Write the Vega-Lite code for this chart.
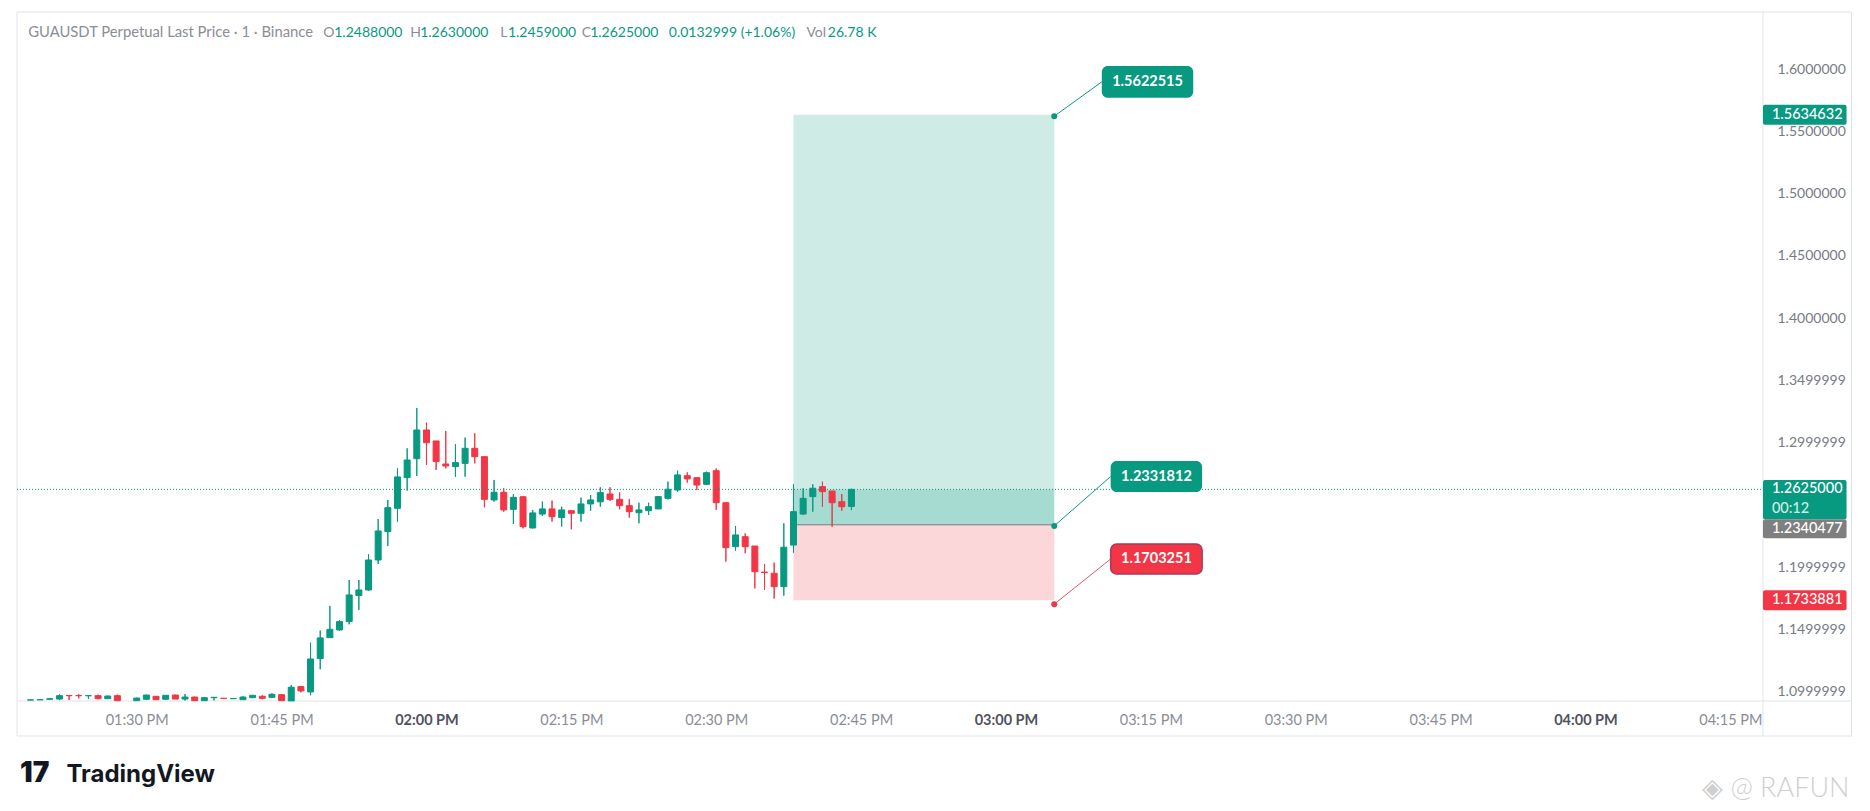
{
  "$schema": "https://vega.github.io/schema/vega-lite/v6.json",
  "width": 1756,
  "height": 689,
  "autosize": {"type": "none"},
  "padding": {"left": 12, "top": 12, "right": 102, "bottom": 110},
  "background": "#ffffff",
  "config": {"view": {"stroke": null}},
  "datasets": {
    "candles": [
      {"m":79,"o":1.0933,"h":1.0935,"l":1.0932,"c":1.0934},
      {"m":80,"o":1.0935,"h":1.0941,"l":1.0934,"c":1.0936},
      {"m":81,"o":1.0939,"h":1.0944,"l":1.0939,"c":1.0944},
      {"m":82,"o":1.0941,"h":1.0979,"l":1.0933,"c":1.0968},
      {"m":83,"o":1.0969,"h":1.0970,"l":1.0933,"c":1.0968},
      {"m":84,"o":1.0969,"h":1.0979,"l":1.0947,"c":1.0968},
      {"m":85,"o":1.0968,"h":1.0969,"l":1.0941,"c":1.0968},
      {"m":86,"o":1.0968,"h":1.0976,"l":1.0939,"c":1.0944},
      {"m":87,"o":1.0944,"h":1.0968,"l":1.0941,"c":1.0965},
      {"m":88,"o":1.0968,"h":1.0976,"l":1.0928,"c":1.0928},
      {"m":90,"o":1.0928,"h":1.0952,"l":1.0928,"c":1.0949},
      {"m":91,"o":1.0939,"h":1.0976,"l":1.0936,"c":1.0973},
      {"m":92,"o":1.0963,"h":1.0965,"l":1.0936,"c":1.0936},
      {"m":93,"o":1.0939,"h":1.0973,"l":1.0939,"c":1.0971},
      {"m":94,"o":1.0973,"h":1.0976,"l":1.0941,"c":1.0941},
      {"m":95,"o":1.0941,"h":1.0981,"l":1.0928,"c":1.0957},
      {"m":96,"o":1.0957,"h":1.0960,"l":1.0928,"c":1.0928},
      {"m":97,"o":1.0928,"h":1.0957,"l":1.0928,"c":1.0952},
      {"m":98,"o":1.0952,"h":1.0955,"l":1.0928,"c":1.0955},
      {"m":99,"o":1.0947,"h":1.0949,"l":1.0944,"c":1.0946},
      {"m":100,"o":1.0944,"h":1.0949,"l":1.0941,"c":1.0945},
      {"m":101,"o":1.0936,"h":1.0963,"l":1.0936,"c":1.0957},
      {"m":102,"o":1.0952,"h":1.0973,"l":1.0949,"c":1.0971},
      {"m":103,"o":1.0963,"h":1.0971,"l":1.0939,"c":1.0947},
      {"m":104,"o":1.0955,"h":1.0987,"l":1.0949,"c":1.0979},
      {"m":105,"o":1.0976,"h":1.0979,"l":1.0928,"c":1.0928},
      {"m":106,"o":1.0926,"h":1.1054,"l":1.0926,"c":1.1036},
      {"m":107,"o":1.1041,"h":1.1046,"l":1.0995,"c":1.1006},
      {"m":108,"o":1.0998,"h":1.1394,"l":1.0971,"c":1.1263},
      {"m":109,"o":1.1266,"h":1.1491,"l":1.1180,"c":1.1432},
      {"m":110,"o":1.1434,"h":1.1689,"l":1.1434,"c":1.1501},
      {"m":111,"o":1.1496,"h":1.1576,"l":1.1488,"c":1.1563},
      {"m":112,"o":1.1563,"h":1.1897,"l":1.1541,"c":1.1777},
      {"m":113,"o":1.1772,"h":1.1897,"l":1.1657,"c":1.1817},
      {"m":114,"o":1.1817,"h":1.2104,"l":1.1809,"c":1.2058},
      {"m":115,"o":1.2058,"h":1.2387,"l":1.2026,"c":1.2291},
      {"m":116,"o":1.2286,"h":1.2540,"l":1.2171,"c":1.2478},
      {"m":117,"o":1.2473,"h":1.2794,"l":1.2366,"c":1.2725},
      {"m":118,"o":1.2719,"h":1.2955,"l":1.2615,"c":1.2861},
      {"m":119,"o":1.2872,"h":1.3279,"l":1.2733,"c":1.3102},
      {"m":120,"o":1.3102,"h":1.3161,"l":1.2821,"c":1.3000},
      {"m":121,"o":1.3014,"h":1.3014,"l":1.2781,"c":1.2848},
      {"m":122,"o":1.2829,"h":1.3094,"l":1.2794,"c":1.2813},
      {"m":123,"o":1.2808,"h":1.2987,"l":1.2727,"c":1.2840},
      {"m":124,"o":1.2834,"h":1.3041,"l":1.2727,"c":1.2955},
      {"m":125,"o":1.2955,"h":1.3075,"l":1.2834,"c":1.2888},
      {"m":126,"o":1.2888,"h":1.2888,"l":1.2481,"c":1.2545},
      {"m":127,"o":1.2540,"h":1.2701,"l":1.2527,"c":1.2602},
      {"m":128,"o":1.2602,"h":1.2634,"l":1.2446,"c":1.2460},
      {"m":129,"o":1.2465,"h":1.2588,"l":1.2347,"c":1.2561},
      {"m":130,"o":1.2566,"h":1.2567,"l":1.2312,"c":1.2326},
      {"m":131,"o":1.2315,"h":1.2460,"l":1.2312,"c":1.2436},
      {"m":132,"o":1.2427,"h":1.2527,"l":1.2411,"c":1.2468},
      {"m":133,"o":1.2468,"h":1.2535,"l":1.2366,"c":1.2406},
      {"m":134,"o":1.2398,"h":1.2486,"l":1.2326,"c":1.2460},
      {"m":135,"o":1.2454,"h":1.2454,"l":1.2304,"c":1.2433},
      {"m":136,"o":1.2433,"h":1.2559,"l":1.2366,"c":1.2508},
      {"m":137,"o":1.2508,"h":1.2580,"l":1.2454,"c":1.2540},
      {"m":138,"o":1.2525,"h":1.2642,"l":1.2486,"c":1.2599},
      {"m":139,"o":1.2588,"h":1.2642,"l":1.2532,"c":1.2545},
      {"m":140,"o":1.2545,"h":1.2601,"l":1.2465,"c":1.2494},
      {"m":141,"o":1.2494,"h":1.2548,"l":1.2398,"c":1.2446},
      {"m":142,"o":1.2438,"h":1.2518,"l":1.2353,"c":1.2460},
      {"m":143,"o":1.2454,"h":1.2518,"l":1.2419,"c":1.2486},
      {"m":144,"o":1.2468,"h":1.2567,"l":1.2468,"c":1.2567},
      {"m":145,"o":1.2553,"h":1.2687,"l":1.2545,"c":1.2626},
      {"m":146,"o":1.2620,"h":1.2775,"l":1.2607,"c":1.2741},
      {"m":147,"o":1.2735,"h":1.2762,"l":1.2679,"c":1.2709},
      {"m":148,"o":1.2719,"h":1.2719,"l":1.2620,"c":1.2660},
      {"m":149,"o":1.2666,"h":1.2767,"l":1.2660,"c":1.2759},
      {"m":150,"o":1.2775,"h":1.2794,"l":1.2460,"c":1.2518},
      {"m":151,"o":1.2518,"h":1.2518,"l":1.2045,"c":1.2157},
      {"m":152,"o":1.2165,"h":1.2331,"l":1.2133,"c":1.2259},
      {"m":153,"o":1.2245,"h":1.2272,"l":1.2112,"c":1.2165},
      {"m":154,"o":1.2170,"h":1.2170,"l":1.1830,"c":1.1964},
      {"m":155,"o":1.1961,"h":1.2026,"l":1.1817,"c":1.1957},
      {"m":156,"o":1.1951,"h":1.2037,"l":1.1748,"c":1.1844},
      {"m":157,"o":1.1844,"h":1.2353,"l":1.1772,"c":1.2160},
      {"m":158,"o":1.2178,"h":1.2666,"l":1.2117,"c":1.2446},
      {"m":159,"o":1.2427,"h":1.2634,"l":1.2420,"c":1.2553},
      {"m":160,"o":1.2567,"h":1.2666,"l":1.2446,"c":1.2634},
      {"m":161,"o":1.2647,"h":1.2687,"l":1.2486,"c":1.2607},
      {"m":162,"o":1.2612,"h":1.2612,"l":1.2326,"c":1.2518},
      {"m":163,"o":1.2526,"h":1.2588,"l":1.2454,"c":1.2486},
      {"m":164,"o":1.2488,"h":1.2630,"l":1.2459,"c":1.2625}
    ],
    "position": [
      {"start":158,"end":185,"target":1.5634632,"entry":1.2340477,"stop":1.1733881,"last":1.2625}
    ],
    "levels": [
      {"kind":"target","v":1.5622515},
      {"kind":"entry","v":1.2331812},
      {"kind":"stop","v":1.1703251}
    ]
  },
  "layer": [
    {
      "data": {"name": "candles"},
      "mark": {"type": "rule", "strokeWidth": 1},
      "encoding": {
        "x": {
          "field": "m", "type": "quantitative",
          "scale": {"domain": [77.606, 258.38], "nice": false, "zero": false},
          "axis": {
            "title": null,
            "values": [90, 105, 120, 135, 150, 165, 180, 195, 210, 225, 240, 255],
            "labelExpr": "(floor(datum.value/60) < 10 ? '0' : '') + floor(datum.value/60) + ':' + (datum.value % 60 < 10 ? '0' : '') + (datum.value % 60) + ' PM'",
            "domain": false, "ticks": false, "tickSize": 0, "grid": false,
            "labelFont": "Lato", "labelFontSize": 14.5, "labelPadding": 23, "labelBaseline": "alphabetic",
            "labelColor": {"condition": {"test": "datum.value % 60 == 0", "value": "#50535e"}, "value": "#8a8d96"},
            "labelFontWeight": {"condition": {"test": "datum.value % 60 == 0", "value": "bold"}, "value": "normal"},
            "labelFlush": false, "labelOverlap": false
          }
        },
        "y": {
          "field": "l", "type": "quantitative",
          "scale": {"domain": [1.09253, 1.64594], "nice": false, "zero": false},
          "axis": {
            "title": null, "orient": "right",
            "values": [1.1, 1.15, 1.2, 1.3, 1.35, 1.4, 1.45, 1.5, 1.55, 1.6],
            "labelExpr": "datum.value > 1.39 ? format(datum.value, '.7f') : format(datum.value - 0.0000001, '.7f')",
            "domain": false, "ticks": false, "tickSize": 0, "grid": false,
            "labelFont": "Lato", "labelFontSize": 14, "labelPadding": 9, "labelAlign": "left", "labelBaseline": "middle",
            "labelColor": "#787b86", "labelFlush": false, "labelOverlap": false
          }
        },
        "y2": {"field": "h"},
        "color": {"condition": {"test": "datum.c >= datum.o", "value": "#089981"}, "value": "#F23645"}
      }
    },
    {
      "data": {"values": [{}]},
      "mark": {"type": "rect", "fill": "#ffffff", "fillOpacity": 0, "stroke": "#e0e3eb", "strokeWidth": 1},
      "encoding": {
        "x": {"datum": 77.606, "type": "quantitative"},
        "x2": {"datum": 267.54},
        "y": {"datum": 1.64594, "type": "quantitative"},
        "y2": {"datum": 1.06442}
      }
    },
    {
      "data": {"values": [{}]},
      "mark": {"type": "rule", "color": "#e0e3eb", "strokeWidth": 1},
      "encoding": {
        "x": {"datum": 258.38, "type": "quantitative"},
        "y": {"datum": 1.64594, "type": "quantitative"},
        "y2": {"datum": 1.06442}
      }
    },
    {
      "data": {"values": [{}]},
      "mark": {"type": "rule", "color": "#e0e3eb", "strokeWidth": 1},
      "encoding": {
        "x": {"datum": 77.606, "type": "quantitative"},
        "x2": {"datum": 267.54},
        "y": {"datum": 1.09253, "type": "quantitative"}
      }
    },
    {
      "data": {"name": "position"},
      "mark": {"type": "rect", "color": "#089981", "opacity": 0.2},
      "encoding": {
        "x": {"field": "start", "type": "quantitative"},
        "x2": {"field": "end"},
        "y": {"field": "entry", "type": "quantitative"},
        "y2": {"field": "target"}
      }
    },
    {
      "data": {"name": "position"},
      "mark": {"type": "rect", "color": "#089981", "opacity": 0.2},
      "encoding": {
        "x": {"field": "start", "type": "quantitative"},
        "x2": {"field": "end"},
        "y": {"field": "entry", "type": "quantitative"},
        "y2": {"field": "last"}
      }
    },
    {
      "data": {"name": "position"},
      "mark": {"type": "rect", "color": "#F23645", "opacity": 0.2},
      "encoding": {
        "x": {"field": "start", "type": "quantitative"},
        "x2": {"field": "end"},
        "y": {"field": "stop", "type": "quantitative"},
        "y2": {"field": "entry"}
      }
    },
    {
      "data": {"name": "position"},
      "mark": {"type": "rule", "color": "#787b86", "strokeWidth": 1},
      "encoding": {
        "x": {"field": "start", "type": "quantitative"},
        "x2": {"field": "end"},
        "y": {"field": "entry", "type": "quantitative"}
      }
    },
    {
      "data": {"name": "candles"},
      "mark": {"type": "rule", "strokeWidth": 1},
      "encoding": {
        "x": {"field": "m", "type": "quantitative"},
        "y": {"field": "l", "type": "quantitative"},
        "y2": {"field": "h"},
        "color": {"condition": {"test": "datum.c >= datum.o", "value": "#089981"}, "value": "#F23645"}
      }
    },
    {
      "data": {"name": "candles"},
      "mark": {"type": "bar", "size": 6, "strokeWidth": 1},
      "encoding": {
        "x": {"field": "m", "type": "quantitative"},
        "y": {"field": "o", "type": "quantitative"},
        "y2": {"field": "c"},
        "fill": {"condition": {"test": "datum.c >= datum.o", "value": "#089981"}, "value": "#F23645"},
        "stroke": {"condition": {"test": "datum.c >= datum.o", "value": "#089981"}, "value": "#F23645"}
      }
    },
    {
      "data": {"name": "position"},
      "mark": {"type": "rule", "color": "#089981", "strokeWidth": 1, "strokeDash": [1, 2]},
      "encoding": {
        "x": {"datum": 77.606, "type": "quantitative"},
        "x2": {"datum": 258.38},
        "y": {"field": "last", "type": "quantitative"}
      }
    },
    {
      "data": {"values": [{}]},
      "mark": {"type": "rule", "color": "#089981", "strokeWidth": 1},
      "encoding": {
        "x": {"datum": 185, "type": "quantitative"},
        "x2": {"datum": 189.92},
        "y": {"datum": 1.5622515, "type": "quantitative"},
        "y2": {"datum": 1.58984}
      }
    },
    {
      "data": {"values": [{}]},
      "mark": {"type": "rule", "color": "#089981", "strokeWidth": 1},
      "encoding": {
        "x": {"datum": 185, "type": "quantitative"},
        "x2": {"datum": 190.84},
        "y": {"datum": 1.2331812, "type": "quantitative"},
        "y2": {"datum": 1.27285}
      }
    },
    {
      "data": {"values": [{}]},
      "mark": {"type": "rule", "color": "#d0606c", "strokeWidth": 1},
      "encoding": {
        "x": {"datum": 185, "type": "quantitative"},
        "x2": {"datum": 190.84},
        "y": {"datum": 1.1703251, "type": "quantitative"},
        "y2": {"datum": 1.20659}
      }
    },
    {
      "data": {"name": "levels"},
      "mark": {"type": "point", "shape": "circle", "filled": true, "size": 36, "opacity": 1},
      "encoding": {
        "x": {"datum": 185, "type": "quantitative"},
        "y": {"field": "v", "type": "quantitative"},
        "color": {"condition": {"test": "datum.kind == 'stop'", "value": "#F23645"}, "value": "#089981"}
      }
    },
    {
      "data": {"values": [{}]},
      "mark": {"type": "rect", "color": "#089981", "cornerRadius": 6},
      "encoding": {
        "x": {"datum": 189.92, "type": "quantitative"},
        "x2": {"datum": 199.39},
        "y": {"datum": 1.60257, "type": "quantitative"},
        "y2": {"datum": 1.57711}
      }
    },
    {
      "data": {"values": [{}]},
      "mark": {"type": "rect", "color": "#089981", "cornerRadius": 6},
      "encoding": {
        "x": {"datum": 190.84, "type": "quantitative"},
        "x2": {"datum": 200.31},
        "y": {"datum": 1.2853, "type": "quantitative"},
        "y2": {"datum": 1.2604}
      }
    },
    {
      "data": {"values": [{}]},
      "mark": {"type": "rect", "fill": "#F23645", "stroke": "#a8395f", "strokeWidth": 1.5, "cornerRadius": 6},
      "encoding": {
        "x": {"datum": 190.84, "type": "quantitative"},
        "x2": {"datum": 200.31},
        "y": {"datum": 1.21863, "type": "quantitative"},
        "y2": {"datum": 1.19454}
      }
    },
    {
      "data": {"values": [{"t": "1.5622515"}]},
      "mark": {"type": "text", "align": "center", "baseline": "middle", "font": "Lato", "fontSize": 14.5, "fontWeight": "bold", "color": "#ffffff"},
      "encoding": {
        "x": {"datum": 194.66, "type": "quantitative"},
        "y": {"datum": 1.58984, "type": "quantitative"},
        "text": {"field": "t"}
      }
    },
    {
      "data": {"values": [{"t": "1.2331812"}]},
      "mark": {"type": "text", "align": "center", "baseline": "middle", "font": "Lato", "fontSize": 14.5, "fontWeight": "bold", "color": "#ffffff"},
      "encoding": {
        "x": {"datum": 195.58, "type": "quantitative"},
        "y": {"datum": 1.27285, "type": "quantitative"},
        "text": {"field": "t"}
      }
    },
    {
      "data": {"values": [{"t": "1.1703251"}]},
      "mark": {"type": "text", "align": "center", "baseline": "middle", "font": "Lato", "fontSize": 14.5, "fontWeight": "bold", "color": "#ffffff"},
      "encoding": {
        "x": {"datum": 195.58, "type": "quantitative"},
        "y": {"datum": 1.20659, "type": "quantitative"},
        "text": {"field": "t"}
      }
    },
    {
      "data": {"values": [{}]},
      "mark": {"type": "rect", "color": "#089981", "cornerRadius": 2},
      "encoding": {
        "x": {"datum": 258.38, "type": "quantitative"},
        "x2": {"datum": 267.03},
        "y": {"datum": 1.5715, "type": "quantitative"},
        "y2": {"datum": 1.55543}
      }
    },
    {
      "data": {"values": [{}]},
      "mark": {"type": "rect", "color": "#089981", "cornerRadius": 2},
      "encoding": {
        "x": {"datum": 258.38, "type": "quantitative"},
        "x2": {"datum": 267.03},
        "y": {"datum": 1.27004, "type": "quantitative"},
        "y2": {"datum": 1.23847}
      }
    },
    {
      "data": {"values": [{}]},
      "mark": {"type": "rect", "color": "#7f7f7f", "cornerRadius": 2},
      "encoding": {
        "x": {"datum": 258.38, "type": "quantitative"},
        "x2": {"datum": 267.03},
        "y": {"datum": 1.23847, "type": "quantitative"},
        "y2": {"datum": 1.22321}
      }
    },
    {
      "data": {"values": [{}]},
      "mark": {"type": "rect", "color": "#F23645", "cornerRadius": 2},
      "encoding": {
        "x": {"datum": 258.38, "type": "quantitative"},
        "x2": {"datum": 267.03},
        "y": {"datum": 1.18142, "type": "quantitative"},
        "y2": {"datum": 1.16536}
      }
    },
    {
      "data": {"values": [{"t": "1.5634632"}]},
      "mark": {"type": "text", "align": "left", "baseline": "middle", "font": "Lato", "fontSize": 14.5, "fontWeight": 500, "color": "#ffffff"},
      "encoding": {
        "x": {"datum": 259.3, "type": "quantitative"},
        "y": {"datum": 1.5634632, "type": "quantitative"},
        "text": {"field": "t"}
      }
    },
    {
      "data": {"values": [{"t": "1.2625000"}]},
      "mark": {"type": "text", "align": "left", "baseline": "middle", "font": "Lato", "fontSize": 14.5, "fontWeight": 500, "color": "#ffffff"},
      "encoding": {
        "x": {"datum": 259.3, "type": "quantitative"},
        "y": {"datum": 1.2625, "type": "quantitative"},
        "text": {"field": "t"}
      }
    },
    {
      "data": {"values": [{"t": "00:12"}]},
      "mark": {"type": "text", "align": "left", "baseline": "middle", "font": "Lato", "fontSize": 14.5, "fontWeight": 500, "color": "#cdeee6"},
      "encoding": {
        "x": {"datum": 259.3, "type": "quantitative"},
        "y": {"datum": 1.24675, "type": "quantitative"},
        "text": {"field": "t"}
      }
    },
    {
      "data": {"values": [{"t": "1.2340477"}]},
      "mark": {"type": "text", "align": "left", "baseline": "middle", "font": "Lato", "fontSize": 14.5, "fontWeight": 500, "color": "#ffffff"},
      "encoding": {
        "x": {"datum": 259.3, "type": "quantitative"},
        "y": {"datum": 1.23084, "type": "quantitative"},
        "text": {"field": "t"}
      }
    },
    {
      "data": {"values": [{"t": "1.1733881"}]},
      "mark": {"type": "text", "align": "left", "baseline": "middle", "font": "Lato", "fontSize": 14.5, "fontWeight": 500, "color": "#ffffff"},
      "encoding": {
        "x": {"datum": 259.3, "type": "quantitative"},
        "y": {"datum": 1.1733881, "type": "quantitative"},
        "text": {"field": "t"}
      }
    },
    {
      "data": {"values": [{"t": "GUAUSDT Perpetual Last Price · 1 · Binance"}]},
      "mark": {"type": "text", "align": "left", "baseline": "alphabetic", "font": "Lato", "fontSize": 14.8, "color": "#8a8d96"},
      "encoding": {"x": {"datum": 78.769, "type": "quantitative"}, "y": {"datum": 1.62562, "type": "quantitative"}, "text": {"field": "t"}}
    },
    {
      "data": {"values": [{"t": "O"}]},
      "mark": {"type": "text", "align": "left", "baseline": "alphabetic", "font": "Lato", "fontSize": 14, "color": "#8a8d96"},
      "encoding": {"x": {"datum": 109.31, "type": "quantitative"}, "y": {"datum": 1.62562, "type": "quantitative"}, "text": {"field": "t"}}
    },
    {
      "data": {"values": [{"t": "1.2488000"}]},
      "mark": {"type": "text", "align": "left", "baseline": "alphabetic", "font": "Lato", "fontSize": 14, "color": "#089981"},
      "encoding": {"x": {"datum": 110.45, "type": "quantitative"}, "y": {"datum": 1.62562, "type": "quantitative"}, "text": {"field": "t"}}
    },
    {
      "data": {"values": [{"t": "H"}]},
      "mark": {"type": "text", "align": "left", "baseline": "alphabetic", "font": "Lato", "fontSize": 14, "color": "#8a8d96"},
      "encoding": {"x": {"datum": 118.32, "type": "quantitative"}, "y": {"datum": 1.62562, "type": "quantitative"}, "text": {"field": "t"}}
    },
    {
      "data": {"values": [{"t": "1.2630000"}]},
      "mark": {"type": "text", "align": "left", "baseline": "alphabetic", "font": "Lato", "fontSize": 14, "color": "#089981"},
      "encoding": {"x": {"datum": 119.35, "type": "quantitative"}, "y": {"datum": 1.62562, "type": "quantitative"}, "text": {"field": "t"}}
    },
    {
      "data": {"values": [{"t": "L"}]},
      "mark": {"type": "text", "align": "left", "baseline": "alphabetic", "font": "Lato", "fontSize": 14, "color": "#8a8d96"},
      "encoding": {"x": {"datum": 127.64, "type": "quantitative"}, "y": {"datum": 1.62562, "type": "quantitative"}, "text": {"field": "t"}}
    },
    {
      "data": {"values": [{"t": "1.2459000"}]},
      "mark": {"type": "text", "align": "left", "baseline": "alphabetic", "font": "Lato", "fontSize": 14, "color": "#089981"},
      "encoding": {"x": {"datum": 128.43, "type": "quantitative"}, "y": {"datum": 1.62562, "type": "quantitative"}, "text": {"field": "t"}}
    },
    {
      "data": {"values": [{"t": "C"}]},
      "mark": {"type": "text", "align": "left", "baseline": "alphabetic", "font": "Lato", "fontSize": 14, "color": "#8a8d96"},
      "encoding": {"x": {"datum": 136.08, "type": "quantitative"}, "y": {"datum": 1.62562, "type": "quantitative"}, "text": {"field": "t"}}
    },
    {
      "data": {"values": [{"t": "1.2625000"}]},
      "mark": {"type": "text", "align": "left", "baseline": "alphabetic", "font": "Lato", "fontSize": 14, "color": "#089981"},
      "encoding": {"x": {"datum": 136.95, "type": "quantitative"}, "y": {"datum": 1.62562, "type": "quantitative"}, "text": {"field": "t"}}
    },
    {
      "data": {"values": [{"t": "0.0132999 (+1.06%)"}]},
      "mark": {"type": "text", "align": "left", "baseline": "alphabetic", "font": "Lato", "fontSize": 14, "color": "#089981"},
      "encoding": {"x": {"datum": 145.09, "type": "quantitative"}, "y": {"datum": 1.62562, "type": "quantitative"}, "text": {"field": "t"}}
    },
    {
      "data": {"values": [{"t": "Vol"}]},
      "mark": {"type": "text", "align": "left", "baseline": "alphabetic", "font": "Lato", "fontSize": 14, "color": "#8a8d96"},
      "encoding": {"x": {"datum": 159.34, "type": "quantitative"}, "y": {"datum": 1.62562, "type": "quantitative"}, "text": {"field": "t"}}
    },
    {
      "data": {"values": [{"t": "26.78 K"}]},
      "mark": {"type": "text", "align": "left", "baseline": "alphabetic", "font": "Lato", "fontSize": 14, "color": "#089981"},
      "encoding": {"x": {"datum": 161.55, "type": "quantitative"}, "y": {"datum": 1.62562, "type": "quantitative"}, "text": {"field": "t"}}
    },
    {
      "data": {"values": [{"t": "17"}]},
      "mark": {"type": "text", "align": "left", "baseline": "alphabetic", "font": "Inter", "fontSize": 28, "fontWeight": 900, "color": "#131722"},
      "encoding": {"x": {"datum": 77.914, "type": "quantitative"}, "y": {"datum": 1.02771, "type": "quantitative"}, "text": {"field": "t"}}
    },
    {
      "data": {"values": [{"t": "TradingView"}]},
      "mark": {"type": "text", "align": "left", "baseline": "alphabetic", "font": "Inter", "fontSize": 24, "fontWeight": "bold", "color": "#131722"},
      "encoding": {"x": {"datum": 82.722, "type": "quantitative"}, "y": {"datum": 1.02771, "type": "quantitative"}, "text": {"field": "t"}}
    },
    {
      "data": {"values": [{"t": "◈ @ RAFUN"}]},
      "mark": {"type": "text", "align": "right", "baseline": "alphabetic", "font": "Lato", "fontSize": 27, "fontWeight": 300, "color": "#cfcfcf"},
      "encoding": {"x": {"datum": 267.33, "type": "quantitative"}, "y": {"datum": 1.01566, "type": "quantitative"}, "text": {"field": "t"}}
    }
  ]
}
